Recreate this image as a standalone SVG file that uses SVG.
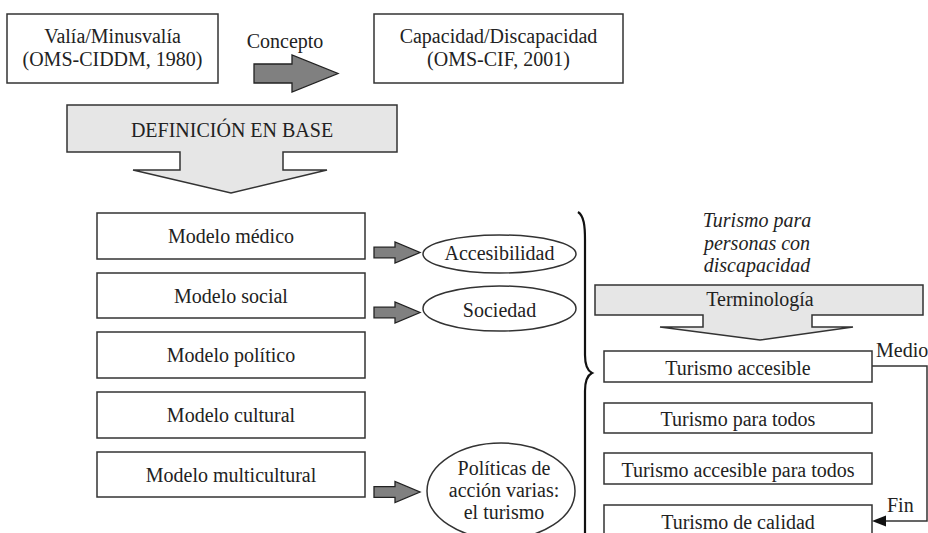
<svg xmlns="http://www.w3.org/2000/svg" width="928" height="533" viewBox="0 0 928 533" font-family="'Liberation Serif', 'DejaVu Serif', serif">
<defs>
<style>
text{font-size:20px;fill:#222;text-anchor:middle}
.box{fill:#fff;stroke:#333;stroke-width:1.5}
.big{fill:#e6e6e6;stroke:#333;stroke-width:1.5}
.dark{fill:#808080;stroke:#222;stroke-width:1.3}
.line{fill:none;stroke:#333;stroke-width:1.5}
.it{font-style:italic}
.st{text-anchor:start}
</style>
<path id="sa" d="M0,-5.3 H21 V-10.5 L46,0 L21,10.5 V5.3 H0 Z"/>
</defs>
<rect width="928" height="533" fill="#fff"/>

<g id="valia">
<rect class="box" x="7" y="14" width="211" height="69"/>
<text x="112.5" y="43">Valía/Minusvalía</text>
<text x="112.5" y="66">(OMS-CIDDM, 1980)</text>
</g>
<g id="capacidad">
<rect class="box" x="374" y="14" width="249" height="69"/>
<text x="498.5" y="43">Capacidad/Discapacidad</text>
<text x="498.5" y="66">(OMS-CIF, 2001)</text>
</g>
<g id="definicion">
<path class="big" d="M67,105 H397 V152 H283 V170 H327 L231,193 L133,170 H180 V152 H67 Z"/>
<text x="232" y="137">DEFINICIÓN EN BASE</text>
</g>

<g id="m1"><rect class="box" x="97" y="213" width="268" height="46"/><text x="231" y="243">Modelo médico</text></g>
<g id="m2"><rect class="box" x="97" y="273" width="268" height="45"/><text x="231" y="302.5">Modelo social</text></g>
<g id="m3"><rect class="box" x="97" y="332" width="268" height="46"/><text x="231" y="362">Modelo político</text></g>
<g id="m4"><rect class="box" x="97" y="392" width="268" height="46"/><text x="231" y="422">Modelo cultural</text></g>
<g id="m5"><rect class="box" x="97" y="452" width="268" height="45"/><text x="231" y="481.5">Modelo multicultural</text></g>

<g id="accesibilidad"><ellipse class="box" cx="499.5" cy="254" rx="76.5" ry="19"/><text x="499.5" y="259.5">Accesibilidad</text></g>
<g id="sociedad"><ellipse class="box" cx="499.5" cy="308.5" rx="76.5" ry="22.5"/><text x="499.5" y="317">Sociedad</text></g>
<g id="politicas"><ellipse class="box" cx="501" cy="491" rx="74" ry="48"/>
<text x="504" y="475">Políticas de</text>
<text x="504" y="497">acción varias:</text>
<text x="504" y="518.5">el turismo</text>
</g>

<g id="titulo">
<text class="it" x="757" y="227">Turismo para</text>
<text class="it" x="757" y="249.5">personas con</text>
<text class="it" x="757" y="272">discapacidad</text>
</g>
<g id="terminologia">
<path class="big" d="M595,285 H923 V315 H812 V327 H853 L760,340 L660,327 H703 V315 H595 Z"/>
<text x="760" y="306">Terminología</text>
</g>

<g id="t1"><rect class="box" x="604" y="351" width="268" height="31"/><text x="738" y="375">Turismo accesible</text></g>
<g id="t2"><rect class="box" x="604" y="403" width="268" height="30"/><text x="738" y="426">Turismo para todos</text></g>
<g id="t3"><rect class="box" x="604" y="453" width="268" height="31"/><text x="738" y="477">Turismo accesible para todos</text></g>
<g id="t4"><rect class="box" x="604" y="505" width="268" height="31"/><text x="738" y="528.5">Turismo de calidad</text></g>

<g id="connectors">
<path class="dark" d="M254,64 H292 V55 L338,73.5 L292,92 V83 H254 Z"/>
<text x="285" y="48">Concepto</text>
<use href="#sa" class="dark" transform="translate(374,252.5)"/>
<use href="#sa" class="dark" transform="translate(374,312.5)"/>
<use href="#sa" class="dark" transform="translate(374,492)"/>
<path d="M578,212 C584,216 585,226 585,240 L585,355 C585,366 588,371 592,373 C588,375 585,380 585,391 L585,540" fill="none" stroke="#111" stroke-width="2.2"/>
<path class="line" d="M872,366 H927 V521 H884"/>
<polygon points="872,521 886,515.5 886,526.5" fill="#111"/>
<text class="st" x="876" y="357">Medio</text>
<text class="st" x="887" y="512">Fin</text>
</g>
</svg>
